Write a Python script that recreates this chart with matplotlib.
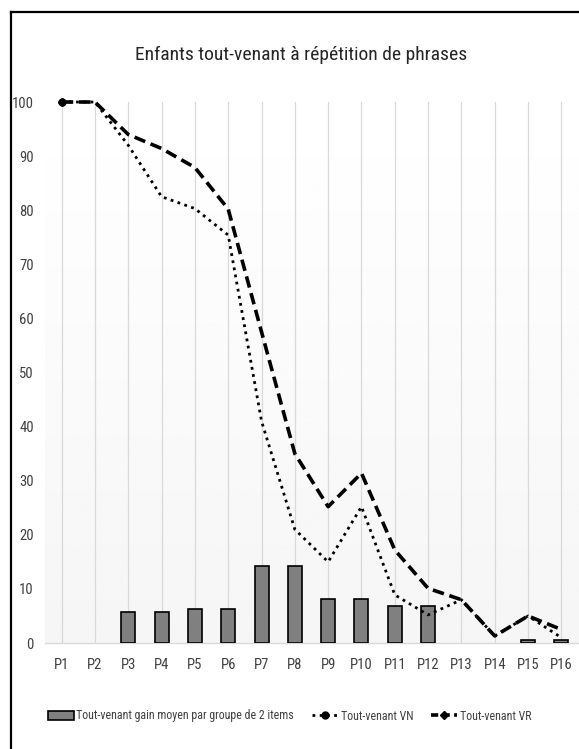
import numpy as np
import matplotlib
matplotlib.use("Agg")
import matplotlib.pyplot as plt
from matplotlib.lines import Line2D
from matplotlib.patches import Patch

plt.rcParams['font.family'] = ['Liberation Sans Narrow', 'Roboto Condensed',
                               'Liberation Sans', 'DejaVu Sans']

# data
labels = ["P1", "P2", "P3", "P4", "P5", "P6", "P7", "P8",
          "P9", "P10", "P11", "P12", "P13", "P14", "P15", "P16"]
gain = [0, 0, 5.7, 5.7, 6.3, 6.3, 14.3, 14.3, 8.1, 8.1, 6.9, 6.9, 0, 0, 0.6, 0.6]
vn = [100, 100, 92, 82.5, 80.3, 75.4, 41, 21, 15, 25.2, 8.9, 5.2, 8, 1.3, 5, 1]
vr = [100, 100, 94, 91.4, 87.9, 80.2, 57.5, 35, 25.2, 31.4, 17.2, 10.1, 8, 1.3, 5, 2.5]

x = np.arange(len(labels))

fig = plt.figure(figsize=(5.79, 7.49), dpi=100)
ax = fig.add_axes([0.0777, 0.1415, 0.9206, 0.7223])

# light vertical gradient in the plot area
grad = np.linspace(0.962, 1.0, 256).reshape(-1, 1)
ax.imshow(grad, extent=[-0.5, 15.5, 0, 100], aspect="auto", cmap="gray",
          vmin=0, vmax=1, origin="lower", zorder=0)

for xi in x:
    ax.axvline(xi, color="#d9d9d9", lw=0.9, zorder=1)

bars = ax.bar(x, gain, width=0.42, color="#808080", edgecolor="black", lw=1.2, zorder=3)
for b, g in zip(bars, gain):
    if g == 0:
        b.set_visible(False)

ax.plot(x, vn, color="black", lw=2, linestyle=(0, (1, 1.6)), zorder=4,
        marker="o", markevery=[0], markersize=5, clip_on=False)
ax.plot(x, vr, color="black", lw=2.6, linestyle=(0, (3.2, 1.6)), zorder=5,
        marker="D", markevery=[0], markersize=4, clip_on=False)

ax.set_xlim(-0.5, 15.5)
ax.set_ylim(0, 100)
ax.set_yticks(range(0, 101, 10))
ax.set_xticks(x)
ax.set_xticklabels(labels)
ax.tick_params(axis="both", length=0, labelsize=10.5, colors="#404040")
ax.tick_params(axis="y", pad=8)
ax.tick_params(axis="x", pad=11)
for s in ["top", "right", "left"]:
    ax.spines[s].set_visible(False)
ax.spines["bottom"].set_color("#d9d9d9")
ax.spines["bottom"].set_linewidth(1)

fig.text(0.52, 1 - 55 / 749, "Enfants tout-venant à répétition de phrases",
         ha="center", va="center", fontsize=14, color="#262626")

handles = [
    Patch(facecolor="#808080", edgecolor="black", lw=1.2),
    Line2D([0], [0], color="black", lw=2, linestyle=(0, (1, 1.6)),
           marker="o", markevery=[0], markersize=5),
    Line2D([0], [0], color="black", lw=2.6, linestyle=(0, (2, 1.2)),
           marker="D", markevery=[0], markersize=4),
]
names = ["Tout-venant gain moyen par groupe de 2 items",
         "Tout-venant VN", "Tout-venant VR"]
leg = fig.legend(handles, names, loc="center", bbox_to_anchor=(0.5, 1 - 716 / 749),
                 ncol=3, frameon=False, fontsize=8.6, handlelength=2.2,
                 handletextpad=0.2, columnspacing=1.5)
for t in leg.get_texts():
    t.set_color("#404040")

# outer frame, cut on the right and bottom as in the source
fig.add_artist(Line2D([11 / 579, 11 / 579], [0, 1 - 12 / 749],
                      transform=fig.transFigure, color="black", lw=1.6))
fig.add_artist(Line2D([11 / 579, 1], [1 - 12 / 749, 1 - 12 / 749],
                      transform=fig.transFigure, color="black", lw=1.6))

fig.savefig("out.png", dpi=100)
